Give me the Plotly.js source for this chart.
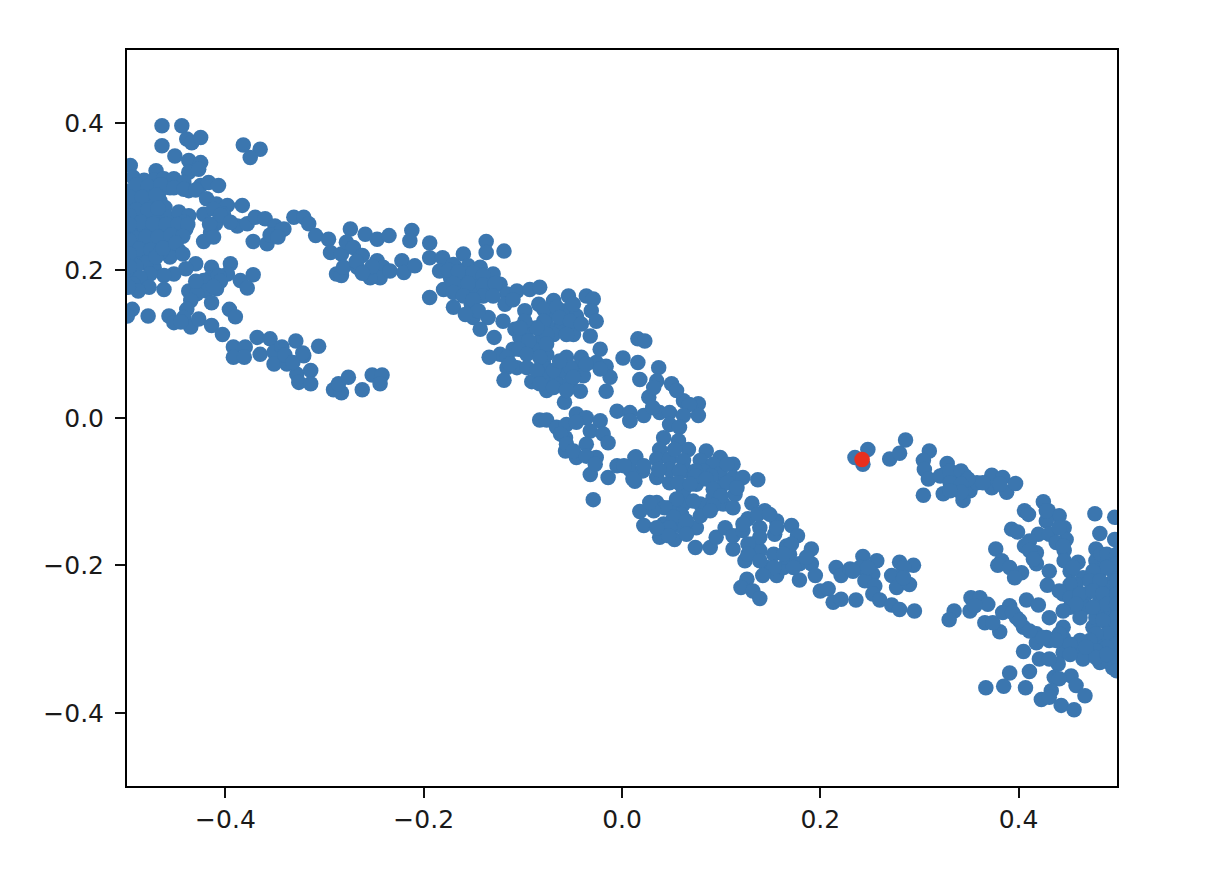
<!DOCTYPE html>
<html>
<head>
<meta charset="utf-8">
<script src="https://cdn.plot.ly/plotly-3.0.1.min.js"></script>
<style>html,body{margin:0;padding:0;background:#fff}</style>
</head>
<body>
<div id="chart" style="width:1220px;height:882px"></div>
<script>
const leftX=[-.464,-.444,-.439,-.434,-.425,-.464,-.451,-.437,-.425,-.437,-.427,-.470,-.496,-.382,-.365,-.375,-.493,-.482,-.472,-.462,-.452,-.442,-.437,-.456,-.466,-.476,-.486,-.496,-.425,-.417,-.407,-.496,-.486,-.476,-.466,-.461,-.493,-.479,-.469,-.459,-.447,-.437,-.442,-.452,-.440,-.486,-.472,-.462,-.496,-.447,-.456,-.496,-.482,-.469,-.459,-.447,-.489,-.476,-.496,-.472,-.456];
const leftY=[.396,.396,.378,.373,.380,.369,.355,.349,.346,.333,.337,.335,.342,.370,.364,.353,.326,.322,.322,.324,.324,.319,.308,.312,.308,.308,.308,.308,.315,.319,.315,.290,.294,.290,.294,.285,.272,.276,.272,.272,.279,.274,.265,.258,.256,.254,.254,.249,.249,.247,.240,.231,.236,.236,.227,.227,.218,.218,.213,.204,.218];
const leftDenseX=[-.490,-.478,-.465,-.452,-.442,-.430,-.497,-.484,-.470,-.490,-.478,-.468,-.497,-.485,-.473,-.460,-.448,-.438,-.497,-.490,-.480,-.468,-.455,-.443,-.497,-.487,-.475,-.465,-.497,-.480,-.490,-.497,-.497,-.470,-.463,-.450,-.443];
const leftDenseY=[.316,.314,.316,.312,.310,.309,.299,.299,.302,.282,.282,.284,.274,.265,.263,.262,.262,.262,.262,.243,.245,.245,.248,.246,.240,.229,.228,.225,.222,.210,.205,.195,.205,.218,.230,.237,.222];
const upperBandX=[-.419,-.422,-.409,-.398,-.402,-.383,-.410,-.415,-.422,-.388,-.378,-.370,-.360,-.372,-.358,-.351,-.350,-.341,-.331,-.321,-.316,-.309,-.296,-.294,-.283,-.274,-.278,-.259,-.271,-.247,-.235,-.212,-.214,-.262,-.288,-.283,-.281,-.267,-.257,-.247,-.241,-.244,-.234,-.254,-.222,-.220,-.209,-.412,-.405,-.395,-.416,-.412,-.343,-.355,-.347,-.268,-.252,-.262];
const upperBandY=[.297,.276,.290,.288,.276,.288,.263,.251,.239,.260,.263,.272,.270,.239,.236,.251,.260,.256,.272,.272,.263,.247,.242,.224,.222,.256,.238,.249,.231,.242,.247,.254,.240,.220,.195,.193,.204,.204,.197,.213,.204,.190,.199,.190,.213,.197,.206,.283,.275,.265,.262,.245,.255,.248,.245,.212,.205,.196];
const lowerBandX=[-.430,-.440,-.452,-.462,-.476,-.486,-.493,-.477,-.488,-.498,-.462,-.414,-.395,-.398,-.415,-.407,-.422,-.385,-.372,-.378,-.409,-.419,-.437,-.429,-.435,-.414,-.396,-.390,-.439,-.457,-.452,-.442,-.435,-.427,-.414,-.403,-.478,-.494,-.499,-.368,-.355,-.392,-.380,-.392,-.381,-.365,-.351,-.343,-.329,-.306,-.321,-.351,-.338,-.328,-.314,-.326,-.314,-.291,-.283,-.286,-.276,-.262,-.252,-.242,-.244,-.405,-.412,-.430,-.445,-.340,-.332,-.322];
const lowerBandY=[.209,.202,.195,.193,.195,.190,.181,.177,.172,.177,.174,.204,.209,.195,.190,.193,.186,.186,.194,.176,.175,.172,.172,.168,.159,.156,.147,.137,.147,.138,.129,.136,.123,.134,.125,.113,.138,.147,.138,.109,.107,.096,.096,.082,.082,.086,.089,.096,.104,.097,.084,.073,.073,.059,.064,.048,.046,.038,.034,.046,.055,.038,.058,.058,.046,.185,.178,.185,.130,.085,.075,.088];
const midX=[-.194,-.137,-.137,-.119,-.194,-.181,-.160,-.184,-.170,-.155,-.143,-.130,-.173,-.160,-.147,-.180,-.163,-.152,-.194,-.170,-.152,-.136,-.123,-.116,-.106,-.093,-.083,-.118,-.150,-.135,-.143,-.129,-.098,-.084,-.069,-.054,-.036,-.029,-.073,-.057,-.046,-.031,-.026,-.063,-.049,-.032,-.120,-.108,-.093,-.076,-.103,-.083,-.069,-.089,-.110,-.123,-.134,-.116,-.106,-.119,-.091,-.079,-.076,-.076,-.076,-.066,-.056,-.041,-.026,-.016,-.046,-.059,-.039,-.052,-.042,-.012,-.016,-.022,.016,.023,.001,.016,.018,.037,.035,.050,.027,.062,.077,.077,-.005,.008,.008,.022,.038,-.058,-.046,-.036,-.083,-.076,-.066,-.056,-.022,-.046,-.032,-.019,-.014,-.057,-.036,-.057,-.046,-.026,-.032,-.014,-.005,.013,.008,.021,.013,-.029];
const midY=[.237,.239,.224,.226,.217,.217,.222,.199,.208,.206,.204,.195,.190,.190,.188,.174,.177,.172,.163,.150,.154,.172,.181,.168,.172,.174,.177,.154,.136,.136,.120,.109,.145,.154,.159,.165,.165,.161,.141,.145,.138,.145,.131,.122,.113,.111,.131,.120,.122,.127,.109,.104,.113,.093,.093,.086,.082,.068,.068,.051,.049,.073,.086,.055,.037,.050,.082,.082,.075,.070,.068,.064,.057,.050,.036,.055,.036,.093,.107,.104,.081,.075,.052,.068,.050,.046,.028,.023,.019,.003,.009,.007,-.004,.003,.007,.021,.005,.000,-.003,-.003,-.013,-.009,-.004,-.006,-.018,-.022,-.034,-.027,-.036,-.045,-.054,-.054,-.077,-.081,-.065,-.054,-.070,-.072,-.086,-.111];
const midDenseX=[-.175,-.165,-.150,-.140,-.170,-.155,-.140,-.128,-.170,-.140,-.160,-.150,-.130,-.110,-.145,-.158,-.079,-.066,-.049,-.079,-.063,-.052,-.041,-.076,-.056,-.086,-.098,-.103,-.094,-.076,-.104,-.096,-.083,-.116,-.113,-.096,-.086,-.069,-.083,-.069,-.052,-.049,-.036,-.056,-.022,-.063,.032,.055,.068,.031,.048,.062,-.062,-.056,-.049,-.036,-.027];
const midDenseY=[.200,.198,.197,.193,.182,.182,.180,.182,.170,.165,.165,.160,.165,.160,.145,.140,.147,.150,.154,.131,.136,.131,.127,.113,.113,.122,.131,.122,.104,.100,.093,.086,.082,.082,.073,.068,.064,.064,.046,.041,.068,.055,.073,.037,.066,.077,.041,.037,.018,.014,.007,.003,-.022,-.036,-.045,-.052,-.063];
const centerX=[.008,.048,.058,.042,.057,.038,.067,.085,.099,.112,.014,.002,.022,.011,.035,.048,.062,.079,.092,.035,.048,.065,.082,.099,.112,.122,.137,.062,.075,.099,.114,.092,.079,.102,.112,.131,.035,.018,.022,.048,.062,.060,.042,.038,.053,.058,.075,.074,.089,.095,.104,.112,.112,.127,.122,.144,.156,.139,.154,.171,.177,.191,.132,.124,.139,.166,.169,.146,.156,.163,.179,.191,.179,.195,.200,.208,.126,.120,.132,.139,.213,.221,.236,.216,.221,.230,.243,.257,.240,.253,.245,.255,.253,.260,.272,.280,.295,.280,.294,.272,.277,.290,.284,.284];
const centerY=[-.004,-.009,-.013,-.027,-.031,-.043,-.043,-.045,-.054,-.063,-.053,-.065,-.065,-.083,-.056,-.056,-.058,-.058,-.063,-.081,-.088,-.072,-.072,-.076,-.081,-.081,-.084,-.099,-.090,-.095,-.104,-.108,-.117,-.117,-.122,-.116,-.115,-.127,-.146,-.122,-.117,-.131,-.144,-.162,-.165,-.146,-.149,-.176,-.176,-.162,-.149,-.178,-.160,-.137,-.153,-.126,-.140,-.149,-.158,-.146,-.160,-.178,-.171,-.194,-.180,-.174,-.185,-.203,-.214,-.203,-.198,-.198,-.220,-.214,-.235,-.232,-.219,-.230,-.235,-.245,-.250,-.246,-.247,-.203,-.214,-.205,-.188,-.194,-.203,-.212,-.221,-.228,-.239,-.247,-.254,-.260,-.262,-.196,-.200,-.214,-.230,-.226,-.203,-.217];
const centerDenseX=[.053,.048,.037,.058,.074,.090,.106,.057,.074,.085,.106,.116,.069,.092,.100,.085,.092,.072,.055,.043,.032,.052,.065,.079,.089,.048,.065,.047,.035,.028,.122,.137,.149,.156,.139,.127,.127,.139,.153,.166,.153,.173,.186,.142,.171,.163,.233,.248];
const centerDenseY=[-.043,-.070,-.070,-.072,-.072,-.079,-.063,-.088,-.079,-.083,-.088,-.095,-.090,-.097,-.106,-.119,-.119,-.113,-.110,-.122,-.126,-.135,-.140,-.133,-.126,-.149,-.158,-.160,-.149,-.115,-.144,-.131,-.131,-.149,-.162,-.171,-.185,-.194,-.185,-.189,-.203,-.203,-.189,-.214,-.171,-.185,-.208,-.203];
const nearRedX=[.235,.248,.243,.270,.280,.286];
const nearRedY=[-.054,-.043,-.063,-.056,-.048,-.030];
const rightArcX=[.310,.304,.305,.309,.304,.328,.326,.324,.336,.346,.336,.351,.344,.358,.373,.373,.384,.388,.397,.321,.331,.342,.349,.331,.342,.342,.331,.364,.381];
const rightArcY=[-.045,-.058,-.070,-.083,-.105,-.062,-.076,-.103,-.081,-.079,-.095,-.099,-.112,-.088,-.078,-.095,-.081,-.101,-.089,-.079,-.072,-.072,-.083,-.088,-.090,-.101,-.099,-.088,-.090];
const rightX=[.425,.406,.410,.430,.441,.428,.446,.393,.399,.420,.431,.448,.438,.477,.497,.482,.497,.377,.406,.418,.446,.478,.383,.379,.391,.403,.396,.418,.431,.460,.452,.478,.492,.495,.482,.465,.429,.458,.445,.468,.489,.495,.452,.468,.482,.495,.462,.408,.420,.431,.445,.391,.384,.398,.405,.418,.431,.381,.366,.374,.352,.361,.369,.351,.335,.330,.418,.445,.458,.475,.492,.482,.495,.472,.489,.495,.482,.465,.445,.440,.421,.431,.405,.391,.411,.436,.453,.441,.458,.367,.385,.407,.433,.423,.431,.443,.456,.467,.497,.478,.485,.483];
const rightY=[-.114,-.126,-.131,-.126,-.133,-.140,-.149,-.151,-.155,-.158,-.158,-.165,-.169,-.130,-.135,-.157,-.165,-.178,-.174,-.183,-.180,-.178,-.194,-.200,-.203,-.210,-.217,-.198,-.208,-.196,-.208,-.194,-.189,-.208,-.208,-.217,-.227,-.226,-.239,-.239,-.226,-.239,-.257,-.257,-.248,-.262,-.271,-.247,-.254,-.271,-.284,-.255,-.264,-.271,-.284,-.293,-.302,-.290,-.278,-.278,-.244,-.244,-.253,-.262,-.262,-.274,-.305,-.298,-.311,-.284,-.280,-.302,-.298,-.316,-.330,-.339,-.332,-.327,-.318,-.334,-.327,-.327,-.317,-.346,-.344,-.352,-.350,-.354,-.363,-.366,-.364,-.366,-.370,-.382,-.379,-.390,-.396,-.377,-.316,-.271,-.262,-.185];
const rightDenseX=[.489,.499,.499,.489,.475,.472,.482,.499,.452,.441,.452,.462,.475,.485,.499,.458,.475,.489,.499,.445,.499,.485,.499,.489,.478,.472,.499,.489,.478,.462,.452,.441,.478,.499,.489,.468,.428,.438,.452,.499,.428,.441,.445,.446,.455,.411,.411,.415,.394,.401,.411,.425,.356];
const rightDenseY=[-.185,-.185,-.198,-.203,-.208,-.221,-.221,-.221,-.226,-.235,-.244,-.239,-.235,-.239,-.239,-.253,-.257,-.253,-.253,-.262,-.271,-.275,-.284,-.293,-.293,-.302,-.307,-.311,-.316,-.302,-.307,-.293,-.325,-.325,-.321,-.311,-.298,-.302,-.321,-.343,-.126,-.149,-.174,-.194,-.203,-.167,-.180,-.192,-.264,-.275,-.289,-.298,-.255];
const redX=[.2422];
const redY=[-.0565];
const tickValues=[-0.4,-0.2,0,0.2,0.4];

const blueX=[].concat(leftX,leftDenseX,upperBandX,lowerBandX,midX,midDenseX,centerX,centerDenseX,nearRedX,rightArcX,rightX,rightDenseX);
const blueY=[].concat(leftY,leftDenseY,upperBandY,lowerBandY,midY,midDenseY,centerY,centerDenseY,nearRedY,rightArcY,rightY,rightDenseY);

const axis={tickmode:'array',tickvals:tickValues,tickformat:'.1f',ticks:'outside',ticklen:10,tickwidth:2,tickcolor:'#111',
  showline:true,mirror:true,linecolor:'#000',linewidth:2,showgrid:false,zeroline:false,
  tickfont:{family:'DejaVu Sans',size:25,color:'#1a1a1a'}};
Plotly.newPlot('chart',[
  {type:'scatter',mode:'markers',x:blueX,y:blueY,marker:{color:'#3b76af',size:15.5,line:{width:0}},hoverinfo:'skip'},
  {type:'scatter',mode:'markers',x:redX,y:redY,marker:{color:'#e8301f',size:15.5,line:{width:0}},hoverinfo:'skip'}
],{
  width:1220,height:882,showlegend:false,
  margin:{l:127,r:103,t:50,b:96,pad:0},
  paper_bgcolor:'#fff',plot_bgcolor:'#fff',
  xaxis:Object.assign({range:[-0.4993,0.4993]},axis),
  yaxis:Object.assign({range:[-0.4993,0.4987],ticklabelstandoff:6},axis)
},{displayModeBar:false,staticPlot:true});
</script>
</body>
</html>
